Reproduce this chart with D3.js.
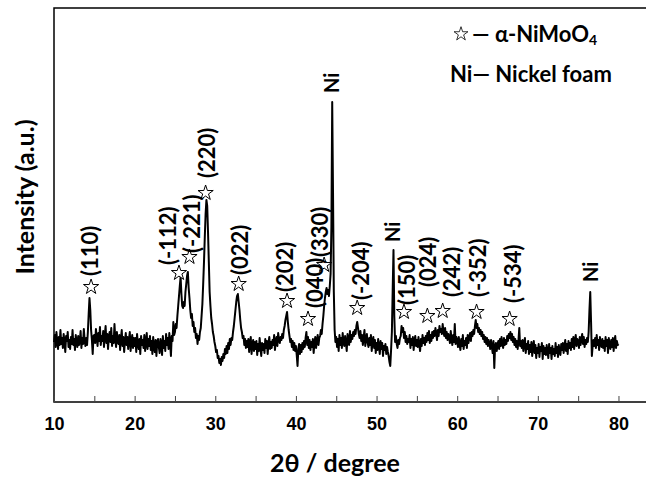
<!DOCTYPE html>
<html>
<head>
<meta charset="utf-8">
<script src="https://cdn.jsdelivr.net/npm/d3@7"></script>
<style>
  body { margin: 0; background: #fff; }
  svg { display: block; }
</style>
</head>
<body>
<div id="chart"></div>
<script>
// XRD pattern: one value every 0.1 degree from 10 to 80
const twoThetaStart = 10;
const twoThetaStep = 0.1;
const intensity = [
  60, 67, 55, 70, 61, 53, 65, 57, 72, 58, // 10
  64, 54, 68, 60, 50, 66, 61, 70, 55, 62, // 11
  53, 65, 58, 72, 57, 63, 52, 67, 60, 55, // 12
  66, 57, 61, 71, 54, 64, 58, 73, 62, 56, // 13
  64, 57, 70, 88, 104, 92, 72, 62, 48, 66, // 14
  67, 59, 73, 64, 56, 69, 61, 75, 57, 66, // 15
  61, 71, 55, 67, 76, 59, 68, 53, 65, 70, // 16
  60, 74, 56, 66, 59, 78, 63, 55, 70, 61, // 17
  58, 67, 52, 64, 72, 56, 65, 50, 61, 69, // 18
  57, 65, 53, 63, 70, 51, 60, 67, 54, 64, // 19
  56, 64, 50, 68, 58, 53, 63, 48, 66, 57, // 20
  62, 54, 67, 51, 60, 69, 53, 63, 56, 66, // 21
  52, 61, 48, 65, 56, 50, 62, 46, 60, 63, // 22
  55, 49, 63, 57, 47, 66, 54, 61, 51, 68, // 23
  57, 64, 53, 69, 59, 46, 66, 61, 80, 67, // 24
  70, 78, 74, 86, 96, 106, 116, 125, 108, 96, // 25
  94, 100, 96, 110, 118, 126, 130, 114, 104, 92, // 26
  84, 88, 76, 80, 70, 74, 64, 68, 58, 66, // 27
  62, 70, 74, 86, 98, 118, 140, 165, 188, 202, // 28
  196, 170, 140, 110, 96, 84, 78, 70, 66, 60, // 29
  56, 50, 52, 44, 46, 39, 43, 37, 45, 41, // 30
  48, 44, 53, 48, 56, 49, 59, 53, 63, 57, // 31
  64, 62, 70, 76, 84, 92, 100, 106, 108, 100, // 32
  92, 82, 74, 70, 64, 66, 57, 63, 54, 61, // 33
  55, 63, 50, 59, 65, 48, 58, 62, 51, 60, // 34
  53, 61, 47, 58, 51, 64, 54, 46, 59, 52, // 35
  58, 49, 63, 54, 61, 48, 59, 65, 53, 60, // 36
  54, 62, 57, 67, 52, 61, 65, 56, 69, 62, // 37
  59, 65, 62, 68, 64, 72, 76, 82, 86, 90, // 38
  80, 72, 66, 60, 63, 55, 61, 52, 59, 51, // 39
  56, 47, 36, 53, 58, 48, 57, 50, 59, 53, // 40
  61, 55, 64, 70, 57, 65, 54, 62, 52, 60, // 41
  55, 63, 49, 59, 65, 54, 61, 67, 57, 64, // 42
  66, 72, 68, 78, 86, 96, 104, 110, 114, 108, // 43
  112, 106, 116, 128, 175, 300, 210, 110, 72, 60, // 44
  65, 55, 63, 51, 67, 57, 64, 54, 69, 59, // 45
  56, 66, 59, 51, 68, 61, 57, 71, 60, 67, // 46
  63, 70, 66, 72, 68, 76, 80, 74, 68, 64, // 47
  71, 61, 67, 57, 65, 72, 56, 63, 68, 59, // 48
  55, 64, 57, 67, 51, 61, 65, 54, 62, 49, // 49
  59, 52, 63, 55, 48, 61, 53, 59, 46, 56, // 50
  52, 58, 48, 55, 50, 46, 40, 36, 52, 70, // 51
  112, 152, 86, 60, 66, 58, 54, 62, 58, 64, // 52
  66, 76, 70, 74, 64, 70, 60, 66, 58, 63, // 53
  60, 67, 54, 63, 57, 65, 52, 61, 66, 56, // 54
  62, 55, 65, 57, 51, 63, 56, 67, 59, 64, // 55
  57, 66, 60, 69, 62, 71, 59, 67, 61, 70, // 56
  64, 71, 66, 74, 68, 62, 72, 66, 76, 70, // 57
  73, 68, 78, 70, 66, 74, 64, 70, 62, 68, // 58
  65, 59, 71, 62, 57, 67, 60, 78, 58, 65, // 59
  61, 55, 65, 57, 52, 63, 56, 67, 53, 61, // 60
  57, 64, 54, 67, 59, 65, 69, 61, 70, 66, // 61
  72, 68, 76, 82, 74, 78, 70, 74, 68, 72, // 62
  66, 70, 63, 67, 60, 65, 58, 64, 56, 62, // 63
  58, 53, 62, 55, 49, 61, 34, 56, 59, 51, // 64
  57, 61, 53, 63, 56, 65, 58, 54, 64, 57, // 65
  62, 58, 66, 61, 68, 64, 70, 62, 68, 60, // 66
  65, 57, 63, 55, 61, 53, 62, 74, 56, 61, // 67
  54, 62, 51, 59, 64, 49, 58, 53, 61, 48, // 68
  57, 50, 60, 46, 55, 61, 49, 57, 44, 54, // 69
  49, 58, 45, 55, 51, 59, 43, 56, 48, 54, // 70
  47, 57, 50, 44, 58, 49, 54, 43, 56, 48, // 71
  53, 46, 59, 49, 55, 45, 57, 50, 47, 58, // 72
  52, 59, 49, 56, 62, 51, 58, 48, 61, 54, // 73
  59, 52, 63, 55, 65, 53, 61, 67, 56, 63, // 74
  61, 54, 65, 57, 63, 68, 58, 65, 55, 62, // 75
  58, 64, 60, 70, 92, 110, 80, 46, 56, 62, // 76
  56, 64, 54, 67, 57, 62, 52, 65, 58, 55, // 77
  63, 54, 61, 51, 65, 56, 62, 49, 64, 57, // 78
  53, 62, 55, 64, 51, 60, 66, 54, 61, 57, // 79
  58                                       // 80
];

// alpha-NiMoO4 reflections: star marker and (hkl) label
const hklLabels = ["(110)", "(-112)", "(-221)", "(220)", "(022)", "(202)", "(040)",
                   "(330)", "(-204)", "(150)", "(024)", "(242)", "(-352)", "(-534)"];
const hklStarPos = [14.6, 25.5, 26.8, 28.8, 32.9, 38.9, 41.5, 43.5, 47.6, 53.4, 56.3, 58.2, 62.4, 66.5];
const hklStarI = [115, 129, 145, 209, 118, 101, 83, 137, 94, 90, 86, 91, 90, 83];
const hklLabelPos = [14.46, 24.14, 27.11, 28.97, 33.07, 38.65, 42.37, 42.99, 48.07, 53.77, 56.38, 59.36, 62.58, 66.92];
const hklLabelI = [126, 137, 149, 224, 127, 110, 94, 145, 102, 97, 115, 105, 105, 99];

// nickel foam peaks
const niLabelPos = [44.47, 52.04, 76.59];
const niLabelI = [309, 160, 120];

const xTicks = [10, 15, 20, 25, 30, 35, 40, 45, 50, 55, 60, 65, 70, 75, 80, 85];

const width = 646, height = 480;
const plot = { left: 54, top: 8, bottom: 402 };

const x = d3.scaleLinear().domain([10, 85]).range([plot.left, 658.8]);
const y = d3.scaleLinear().domain([0, 394]).range([plot.bottom, plot.top]);

const svg = d3.select("#chart").append("svg")
  .attr("width", width)
  .attr("height", height);

const points = intensity.map((v, i) => [twoThetaStart + i * twoThetaStep, v]);

// frame
svg.append("rect")
  .attr("x", x(10)).attr("y", y(394))
  .attr("width", x(85) - x(10)).attr("height", y(0) - y(394))
  .attr("fill", "none").attr("stroke", "#000").attr("stroke-width", 1.5);

const gX = svg.append("g")
  .attr("transform", `translate(0,${plot.bottom})`)
  .call(d3.axisBottom(x).tickValues(xTicks).tickSize(-6).tickPadding(15)
    .tickFormat(d => (d % 10 === 0 && d < 85) ? d : ""));
gX.select(".domain").remove();
gX.selectAll(".tick line").attr("stroke", "#444").attr("stroke-width", 1);
gX.selectAll(".tick text")
  .attr("font-family", "'Liberation Sans', Arial, sans-serif")
  .attr("font-weight", "bold").attr("font-size", 18).attr("fill", "#000");

// curve
svg.append("path")
  .datum(points)
  .attr("fill", "none")
  .attr("stroke", "#000")
  .attr("stroke-width", 2)
  .attr("stroke-linejoin", "round")
  .attr("d", d3.line().x(d => x(d[0])).y(d => y(d[1])));

const labelFont = "Lato, 'Open Sans', sans-serif";

// stars
const star = d3.symbol(d3.symbolStar, 72);
svg.append("g").selectAll("path")
  .data(hklStarPos)
  .join("path")
  .attr("d", star)
  .attr("transform", (d, i) => `translate(${x(d)},${y(hklStarI[i])})`)
  .attr("fill", "#fff").attr("stroke", "#000").attr("stroke-width", 1);

// hkl labels
svg.append("g").selectAll("text")
  .data(hklLabels)
  .join("text")
  .attr("transform", (d, i) => `translate(${x(hklLabelPos[i])},${y(hklLabelI[i])}) rotate(-90)`)
  .attr("dy", "0.36em")
  .attr("font-family", labelFont).attr("font-weight", "bold").attr("font-size", 22)
  .text(d => d);

// Ni labels
svg.append("g").selectAll("text")
  .data(niLabelPos)
  .join("text")
  .attr("transform", (d, i) => `translate(${x(d)},${y(niLabelI[i])}) rotate(-90)`)
  .attr("dy", "0.36em")
  .attr("font-family", labelFont).attr("font-weight", "bold").attr("font-size", 20)
  .text("Ni");

// legend
const legend = svg.append("g").attr("font-family", labelFont).attr("font-weight", "bold").attr("font-size", 22);
legend.append("path")
  .attr("d", d3.symbol(d3.symbolStar, 60))
  .attr("transform", "translate(461,34)")
  .attr("fill", "#fff").attr("stroke", "#000").attr("stroke-width", 0.8);
const l1 = legend.append("text").attr("x", 472).attr("y", 42);
l1.append("tspan").text("\u2014 \u03b1-NiMoO");
l1.append("tspan").attr("font-size", 14).attr("dy", 3).text("4");
legend.append("text").attr("x", 450).attr("y", 82).text("Ni\u2014 Nickel foam");

// axis titles
svg.append("text")
  .attr("x", 335).attr("y", 472)
  .attr("text-anchor", "middle")
  .attr("font-family", labelFont).attr("font-weight", "bold").attr("font-size", 25)
  .text("2\u03b8 / degree");

svg.append("text")
  .attr("transform", "translate(34,197) rotate(-90)")
  .attr("text-anchor", "middle")
  .attr("font-family", labelFont).attr("font-weight", "bold").attr("font-size", 25)
  .text("Intensity (a.u.)");
</script>
</body>
</html>
